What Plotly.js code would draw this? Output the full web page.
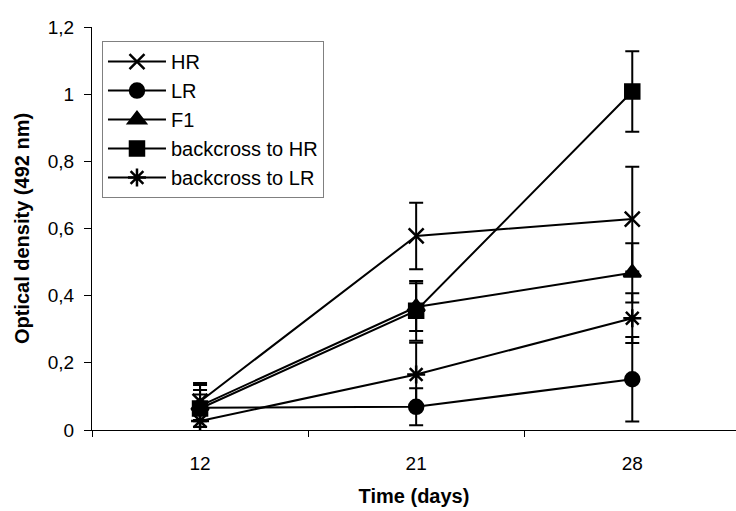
<!DOCTYPE html>
<html>
<head>
<meta charset="utf-8">
<script src="https://cdn.plot.ly/plotly-3.0.1.min.js"></script>
<style>
html,body{margin:0;padding:0;background:#fff;}
#chart{width:736px;height:511px;}
</style>
</head>
<body>
<div id="chart"></div>
<script>
var days = ['12', '21', '28'];
var seriesNames = ['HR', 'LR', 'F1', 'backcross to HR', 'backcross to LR'];

var hrValues = [0.085, 0.578, 0.628];
var hrErrors = [0.055, 0.099, 0.156];

var lrValues = [0.066, 0.069, 0.151];
var lrErrors = [0.040, 0.055, 0.126];

var f1Values = [0.072, 0.366, 0.468];
var f1Errors = [0.062, 0.071, 0.088];

var bhrValues = [0.064, 0.355, 1.008];
var bhrErrors = [0.055, 0.089, 0.120];

var blrValues = [0.027, 0.165, 0.333];
var blrErrors = [0.045, 0.095, 0.074];

var symbols = ['x-thin-open', 'circle', 'triangle-up', 'square', 'asterisk-open'];
var sizes = [15, 14, 15, 14, 15];
var valueSets = [hrValues, lrValues, f1Values, bhrValues, blrValues];
var errorSets = [hrErrors, lrErrors, f1Errors, bhrErrors, blrErrors];

var traces = seriesNames.map(function (name, i) {
  return {
    type: 'scatter',
    mode: 'lines+markers',
    name: name,
    x: days,
    y: valueSets[i],
    line: {color: '#000', width: 2},
    marker: {
      symbol: symbols[i],
      size: sizes[i],
      color: '#000',
      line: {color: '#000', width: 2.5}
    },
    error_y: {
      type: 'data',
      array: errorSets[i],
      visible: true,
      color: '#000',
      thickness: 2,
      width: 7
    },
    cliponaxis: false
  };
});

var layout = {
  width: 736,
  height: 511,
  margin: {l: 92, r: 0, t: 27, b: 81},
  paper_bgcolor: '#fff',
  plot_bgcolor: '#fff',
  separators: ',.',
  font: {family: 'Liberation Sans, Arial, sans-serif', color: '#000', size: 18},
  showlegend: true,
  legend: {
    x: 0.0155,
    y: 0.965,
    xanchor: 'left',
    yanchor: 'top',
    bgcolor: '#fff',
    bordercolor: '#808080',
    borderwidth: 1,
    itemwidth: 58,
    font: {size: 20, color: '#000'},
    tracegroupgap: 0
  },
  xaxis: {
    type: 'category',
    range: [-0.5, 2.48],
    showgrid: false,
    zeroline: false,
    showline: true,
    linecolor: '#000',
    linewidth: 1,
    ticks: 'outside',
    tickson: 'boundaries',
    ticklen: 6,
    tickcolor: '#000',
    tickwidth: 1,
    ticklabelstandoff: 16,
    tickfont: {size: 19},
    title: {text: '<b>Time (days)</b>', font: {size: 20}, standoff: 16}
  },
  yaxis: {
    range: [0, 1.2],
    tickvals: [0, 0.2, 0.4, 0.6, 0.8, 1, 1.2],
    showgrid: false,
    zeroline: false,
    showline: true,
    linecolor: '#000',
    linewidth: 1,
    ticks: 'outside',
    ticklen: 7,
    tickcolor: '#000',
    tickwidth: 1,
    ticklabelstandoff: 6,
    tickfont: {size: 19},
    title: {text: '<b>Optical density (492 nm)</b>', font: {size: 20}, standoff: 12}
  }
};

Plotly.newPlot('chart', traces, layout, {displayModeBar: false, staticPlot: true});
</script>
</body>
</html>
